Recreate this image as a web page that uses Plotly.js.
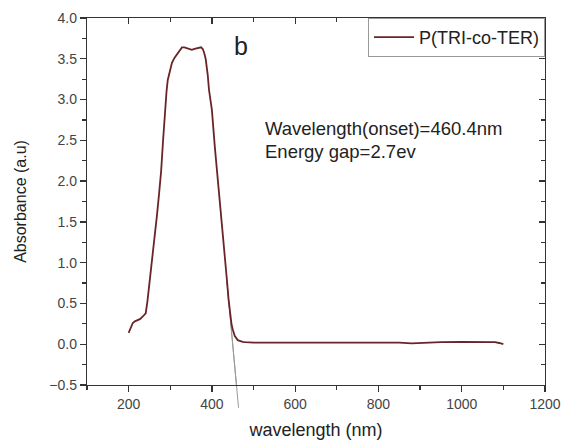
<!DOCTYPE html>
<html>
<head>
<meta charset="utf-8">
<script src="https://cdn.plot.ly/plotly-3.0.1.min.js"></script>
<style>html,body{margin:0;padding:0;background:#fff;}#chart{width:561px;height:444px;}</style>
</head>
<body>
<div id="chart"></div>
<script>
// ---- data ----
const wavelength = [200,205,210,215,222,228,234,241,245,251,258,263,268,273,278,283,287,291,294,300,304,310,316,322,328,334,340,346,352,358,364,370,374,378,381,385,388,390,393,396,400,407,415,424,430,436,440,443,447,450,455,462,468,474,480,500,550,600,650,700,750,800,850,880,900,950,1000,1050,1080,1090,1100];
const absorbance = [0.14,0.20,0.26,0.28,0.30,0.31,0.34,0.38,0.52,0.78,1.10,1.34,1.58,1.84,2.12,2.52,2.87,3.10,3.24,3.38,3.45,3.51,3.55,3.60,3.64,3.64,3.63,3.62,3.61,3.62,3.63,3.64,3.64,3.62,3.58,3.50,3.40,3.30,3.12,3.00,2.87,2.42,1.98,1.55,1.18,0.79,0.55,0.38,0.25,0.18,0.10,0.05,0.035,0.03,0.025,0.02,0.02,0.02,0.02,0.02,0.02,0.02,0.02,0.01,0.015,0.025,0.03,0.03,0.025,0.015,0.0];
const tangentX = [436, 464];
const tangentY = [0.77, -0.78];
const seriesName = 'P(TRI-co-TER)';
const panelLabel = 'b';
const noteLines = ['Wavelength(onset)=460.4nm', 'Energy gap=2.7ev'];
const xRange = [100, 1200];
const yRange = [-0.5, 4.0];
const xMajor = 200, xMinor = 100;
const yMajor = 0.5, yMinor = 0.25;

const font = 'Liberation Sans, Arial, sans-serif';
const axCol = '#333';
const tangentColor = '#999';

// tangent (onset) line on the bottom/left axes
const tangentTrace = {
  x: tangentX, y: tangentY, type: 'scatter', mode: 'lines',
  showlegend: false, hoverinfo: 'skip',
  line: {color: tangentColor, width: 1}
};
// spectrum on the top/right axis pair (same ranges), drawn above the tangent
const trace = {
  x: wavelength, y: absorbance, type: 'scatter', mode: 'lines',
  xaxis: 'x2', yaxis: 'y2',
  name: seriesName,
  line: {color: '#6a2428', width: 1.8}
};

const toPaperY = v => (v - yRange[0]) / (yRange[1] - yRange[0]);

const baseAxis = {
  showline: true, linecolor: axCol, linewidth: 1.2,
  showgrid: false, zeroline: false,
  tickcolor: axCol, tickwidth: 1.3,
  tickfont: {family: font, size: 14, color: '#444'}
};
const xTicks = (dir) => ({range: xRange, autorange: false, tickmode: 'linear', tick0: 0, dtick: xMajor, ticks: dir, ticklen: 6,
  minor: {tickmode: 'linear', tick0: 0, dtick: xMinor, ticks: dir, ticklen: 4, tickcolor: axCol, tickwidth: 1.2}});
const yTicks = (dir) => ({range: yRange, autorange: false, tickmode: 'linear', tick0: 0, dtick: yMajor, tickformat: '.1f', ticks: dir, ticklen: 6,
  minor: {tickmode: 'linear', tick0: 0, dtick: yMinor, ticks: dir, ticklen: 4, tickcolor: axCol, tickwidth: 1.2}});

const layout = {
  width: 561, height: 444,
  margin: {l: 87, r: 16, t: 18, b: 59},
  paper_bgcolor: '#fff', plot_bgcolor: '#fff',
  showlegend: true,
  legend: {
    x: 1, y: 1, xanchor: 'right', yanchor: 'top',
    bgcolor: '#fff', bordercolor: '#999', borderwidth: 1,
    font: {family: font, size: 18, color: '#222'},
    tracegroupgap: 0, itemwidth: 40
  },
  xaxis: Object.assign({}, baseAxis, xTicks('outside'), {
    title: {text: 'wavelength (nm)', font: {family: font, size: 18, color: '#222'}, standoff: 12}
  }),
  yaxis: Object.assign({}, baseAxis, yTicks('outside'), {
    title: {text: 'Absorbance (a.u)', font: {family: font, size: 16, color: '#222'}, standoff: 18}
  }),
  xaxis2: Object.assign({}, baseAxis, xTicks('inside'), {
    overlaying: 'x', side: 'top', anchor: 'y', showticklabels: false
  }),
  yaxis2: Object.assign({}, baseAxis, yTicks('inside'), {
    overlaying: 'y', side: 'right', anchor: 'x', showticklabels: false
  }),
  // continuation of the tangent below the x axis (outside the clipped plot area)
  shapes: [{
    type: 'line', xref: 'x', yref: 'paper', layer: 'below',
    x0: tangentX[0], x1: tangentX[1],
    y0: toPaperY(tangentY[0]), y1: toPaperY(tangentY[1]),
    line: {color: tangentColor, width: 1}
  }],
  annotations: [
    {text: panelLabel, xref: 'paper', yref: 'paper', x: 0.336, y: 0.925, xanchor: 'center', yanchor: 'middle',
     showarrow: false, font: {family: font, size: 25, color: '#222'}},
    {text: noteLines[0], xref: 'paper', yref: 'paper', x: 0.384, y: 0.70, xanchor: 'left', yanchor: 'middle',
     showarrow: false, font: {family: font, size: 18.5, color: '#222'}},
    {text: noteLines[1], xref: 'paper', yref: 'paper', x: 0.384, y: 0.636, xanchor: 'left', yanchor: 'middle',
     showarrow: false, font: {family: font, size: 18.5, color: '#222'}}
  ]
};

Plotly.newPlot('chart', [tangentTrace, trace], layout, {staticPlot: true, displayModeBar: false});
</script>
</body>
</html>
